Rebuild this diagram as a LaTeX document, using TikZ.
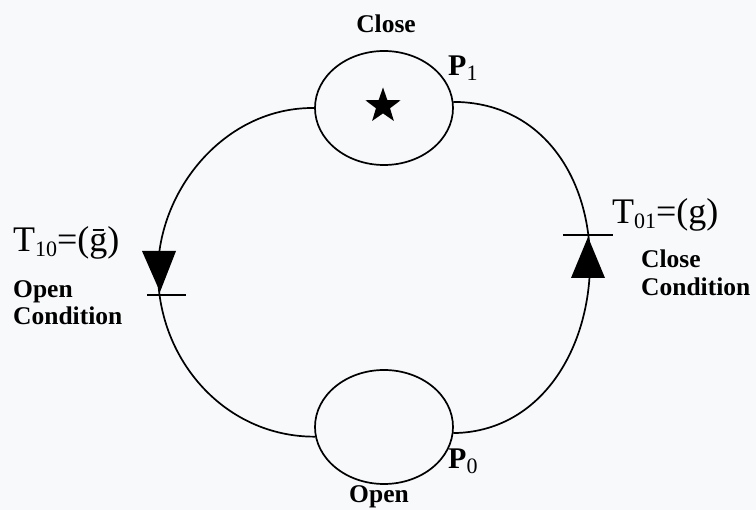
\documentclass[tikz,border=0pt]{standalone}
\usepackage{fontspec}
\setmainfont{Liberation Serif}
\usetikzlibrary{shapes.geometric}
\definecolor{bgc}{RGB}{248,249,251}
\tikzset{
  place/.style={draw, line width=1.7pt, ellipse, minimum width=138pt, minimum height=114pt, inner sep=0pt},
  arc/.style={line width=1.7pt},
  boldlab/.style={font=\fontsize{25.5}{28}\selectfont\bfseries, align=left, inner sep=0pt},
  reglab/.style={font=\fontsize{36}{38}\selectfont, inner sep=0pt, anchor=base west},
  plab/.style={font=\fontsize{30}{32}\selectfont\bfseries, inner sep=0pt, anchor=base west},
  tip/.style={fill=black},
  bar/.style={line width=1.8pt}
}
\newcommand{\subs}[1]{\raisebox{-0.12em}{\fontsize{22}{22}\selectfont #1}}
\newcommand{\psub}[1]{\raisebox{-0.15em}{\fontsize{22}{22}\selectfont\mdseries #1}}
\begin{document}
\begin{tikzpicture}[x=1pt,y=-1pt]
\fill[bgc] (0,0) rectangle (756,510);
\useasboundingbox (0,0) rectangle (756,510);
\node[place] (p1) at (384,108) {};
\node[place] (p0) at (384,427) {};
\node[star, star points=5, star point ratio=2.5, fill=black, minimum size=37pt, inner sep=0pt] (st) at (383,106) {};
% arcs
\coordinate (rmid) at (590,262);
\coordinate (lmid) at (158,272);
\draw[arc] (p1.5) .. controls (540,102) and (590,175) .. (rmid) .. controls (590,350) and (540,432) .. (p0.-5);
\draw[arc] (p1.west) .. controls (225,107) and (158,190) .. (lmid) .. controls (158,360) and (225,437) .. (p0.188);
% transitions
\fill[tip] (588,237) -- (605,278) -- (571,278) -- cycle;
\draw[bar] (563,235) -- (613,235);
\fill[tip] (160,292) -- (176,251) -- (142,251) -- cycle;
\draw[bar] (147,295) -- (186,295);
% labels
\node[boldlab, anchor=base] (lc) at (386,33) {Close};
\node[plab] (lp1) at (448,76) {P\psub{1}};
\node[plab] (lp0) at (448,469) {P\psub{0}};
\node[boldlab, anchor=base] (lo) at (379,503) {Open};
\node[reglab] (lt01) at (612,224) {T\subs{01}=(g)};
\node[boldlab, anchor=base west] (lcc1) at (641,268) {Close};
\node[boldlab, anchor=base west] (lcc2) at (641,296) {Condition};
\node[reglab] (lt10) at (13,252) {T\subs{10}=(\=g)};
\node[boldlab, anchor=base west] (loc1) at (13,298) {Open};
\node[boldlab, anchor=base west] (loc2) at (13,325) {Condition};
\end{tikzpicture}
\end{document}
